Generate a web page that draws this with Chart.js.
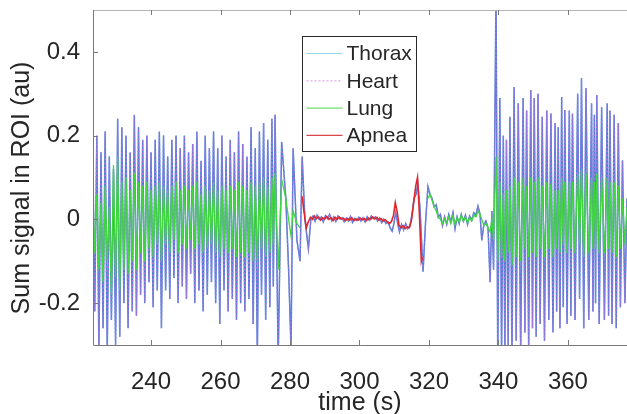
<!DOCTYPE html>
<html><head><meta charset="utf-8">
<script src="https://cdn.jsdelivr.net/npm/chart.js@4/dist/chart.umd.min.js"></script>
<style>html,body{margin:0;padding:0;background:#fff;overflow:hidden}#wrap{width:627px;height:414px}</style>
</head><body><div id="wrap"><canvas id="c" width="627" height="414"></canvas></div>
<script>
const seriesNames = ['Thorax', 'Heart', 'Lung', 'Apnea'];
const xTitle = 'time (s)';
const yTitle = 'Sum signal in ROI (au)';
const xTicks = [240, 260, 280, 300, 320, 340, 360];
const yTicks = [-0.2, 0, 0.2, 0.4];
const yTickLabels = ['-0.2', '0', '0.2', '0.4'];

// segment 1: breathing before apnea (s)
const seg1T = [223.3,223.8,224.4,225.0,225.6,226.2,226.8,227.4,228.0,228.6,
229.2,229.8,230.4,231.0,231.6,232.2,232.8,233.4,234.0,234.6,
235.2,235.8,236.4,237.0,237.6,238.2,238.8,239.4,240.0,240.6,
241.2,241.8,242.4,243.0,243.6,244.2,244.8,245.4,246.0,246.6,
247.2,247.8,248.4,249.0,249.6,250.2,250.8,251.4,252.0,252.6,
253.2,253.8,254.4,255.0,255.6,256.2,256.8,257.4,258.0,258.6,
259.2,259.8,260.4,261.0,261.6,262.2,262.8,263.4,264.0,264.6,
265.2,265.8,266.4,267.0,267.6,268.2,268.8,269.4,270.0,270.6,
271.2,271.8,272.4,273.0,273.6,274.2,274.8,275.2,275.7,276.6,
277.6,278.8,279.6,280.3,280.9,282.0,282.9,283.5,284.3,285.3,
286.0];
const thorax1 = [0.12,-0.22,0.2,-0.31,0.16,-0.26,0.21,-0.32,0.15,-0.24,
0.12,-0.3,0.24,-0.28,0.22,-0.2,0.2,-0.26,0.16,-0.22,
0.25,-0.23,0.22,-0.18,0.19,-0.2,0.2,-0.15,0.16,-0.21,
0.19,-0.17,0.21,-0.26,0.2,-0.17,0.15,-0.19,0.19,-0.14,
0.2,-0.2,0.17,-0.16,0.2,-0.19,0.16,-0.13,0.18,-0.2,
0.21,-0.17,0.14,-0.22,0.2,-0.18,0.17,-0.15,0.21,-0.2,
0.17,-0.25,0.2,-0.17,0.15,-0.22,0.19,-0.19,0.16,-0.24,
0.21,-0.2,0.18,-0.22,0.15,-0.19,0.22,-0.25,0.17,-0.33,
0.21,-0.18,0.23,-0.24,0.19,-0.21,0.24,-0.16,0.25,-0.34,
0.185,0.05,-0.12,-0.31,0.17,-0.05,-0.1,0.15,0.0,-0.07,
0.0];
const lung1 = [0.05,-0.08,0.06,-0.12,0.04,-0.15,0.08,-0.1,0.03,-0.18,
0.13,-0.14,0.15,-0.17,0.09,-0.12,0.1,-0.13,0.07,-0.1,
0.11,-0.12,0.09,-0.08,0.08,-0.1,0.09,-0.07,0.07,-0.09,
0.08,-0.06,0.09,-0.1,0.08,-0.06,0.07,-0.08,0.08,-0.05,
0.09,-0.08,0.07,-0.06,0.08,-0.07,0.07,-0.05,0.08,-0.07,
0.09,-0.06,0.06,-0.08,0.08,-0.07,0.07,-0.06,0.09,-0.08,
0.07,-0.09,0.08,-0.07,0.07,-0.08,0.08,-0.07,0.07,-0.09,
0.09,-0.08,0.08,-0.09,0.07,-0.08,0.09,-0.1,0.08,-0.1,
0.09,-0.07,0.1,-0.09,0.08,-0.08,0.1,-0.06,0.11,-0.12,
0.095,0.05,0.0,-0.04,0.02,-0.01,-0.02,null,null,null,
null];

// apnea segment, thorax trace (s)
const apBlueT = [286.6,287.2,287.8,288.4,289.0,289.6,290.2,290.8,291.4,292.0,
292.6,293.2,293.8,294.4,295.0,295.6,296.2,296.8,297.4,298.0,
298.6,299.2,299.8,300.4,301.0,301.6,302.2,302.8,303.4,304.0,
304.6,305.2,305.8,306.4,307.0,307.6,308.2,308.8,309.4,309.9,
310.4,310.9,311.5,312.1,312.7,313.3,313.9,314.5,315.1,315.7,
316.3,316.8,317.4,318.3,319.0];
const thoraxAp = [0.008,-0.004,0.01,0.0,0.006,-0.006,0.009,0.002,0.012,-0.003,
0.006,-0.005,0.008,0.001,0.004,-0.006,0.003,-0.004,0.007,-0.007,
0.002,-0.003,0.005,-0.004,0.004,-0.006,0.006,-0.002,0.008,0.002,
0.006,-0.004,0.003,-0.008,0.0,-0.01,-0.006,-0.02,-0.028,-0.01,
0.015,-0.005,-0.03,-0.012,-0.025,-0.01,-0.022,-0.015,0.01,0.05,
0.06,0.085,0.03,-0.125,-0.01];

// apnea flag trace
const apneaT = [283.5,284.0,284.7,285.3,285.9,286.5,287.0,287.6,288.2,288.8,
289.4,290.0,290.6,291.2,291.8,292.4,293.0,293.6,294.2,294.8,
295.4,296.0,296.6,297.2,297.8,298.4,299.0,299.6,300.2,300.8,
301.4,302.0,302.6,303.2,303.8,304.4,305.0,305.6,306.2,306.8,
307.4,308.0,308.6,309.2,309.8,310.3,310.8,311.4,312.0,312.6,
313.2,313.8,314.4,315.0,315.6,316.2,316.7,317.2,317.8,318.1];
const apneaV = [0.055,0.02,-0.02,-0.005,0.005,0.0,0.008,0.002,0.006,-0.002,
0.004,0.001,0.007,0.0,0.004,-0.003,0.005,0.0,0.006,0.001,
0.003,-0.003,0.002,-0.002,0.004,-0.003,0.001,-0.002,0.003,-0.001,
0.002,-0.003,0.003,0.0,0.006,0.001,0.005,-0.002,0.002,-0.004,
-0.001,-0.006,-0.01,-0.005,0.01,0.04,0.02,-0.015,-0.02,-0.015,
-0.022,-0.018,-0.02,0.0,0.04,0.08,0.1,0.02,-0.1,-0.09];

// recovery after apnea (s)
const postT = [319.7,320.3,320.9,321.5,322.1,322.7,323.3,323.9,324.5,325.1,
325.7,326.3,326.9,327.5,328.1,328.7,329.3,329.9,330.5,331.1,
331.7,332.3,332.9,333.5,334.1,334.7,335.2,335.8,336.4,337.0];
const thoraxPost = [0.078,0.06,0.05,0.03,0.035,0.005,0.012,-0.015,0.006,-0.012,
0.012,-0.006,0.016,-0.022,0.006,-0.01,0.012,-0.004,0.01,-0.012,
0.008,-0.002,0.016,0.01,0.032,0.012,-0.05,-0.012,-0.004,-0.02];
const lungPost = [0.05,0.06,0.045,0.03,0.02,0.005,0.0,-0.01,0.002,-0.008,
0.006,-0.01,0.008,-0.012,0.004,-0.006,0.01,-0.005,0.006,-0.008,
0.004,-0.004,0.01,0.006,0.02,0.012,0.0,-0.015,-0.01,-0.02];

// segment 3: breathing resumes (s)
const seg3T = [337.6,338.1,338.6,339.3,339.8,340.4,340.9,341.4,341.85,342.3,
342.8,343.3,343.9,344.5,345.1,345.7,346.4,347.1,347.6,348.1,
348.7,349.3,349.8,350.3,350.85,351.4,352.0,352.6,353.25,353.9,
354.5,355.1,355.7,356.3,356.75,357.2,357.7,358.2,358.65,359.1,
359.75,360.4,360.85,361.3,362.05,362.8,363.35,363.9,364.55,365.2,
366.0,366.8,367.2,367.6,367.95,368.3,369.0,369.7,370.5,371.3,
371.7,372.1,372.7,373.3,373.9,374.5,375.1,375.7,376.4,377.0];
const thorax3 = [-0.15,0.02,-0.12,0.55,-0.34,0.29,-0.33,0.2,-0.32,0.19,
-0.3,0.245,-0.33,0.316,-0.29,0.277,-0.32,0.29,-0.27,0.26,
-0.31,0.309,-0.26,0.29,-0.28,0.3,-0.25,0.245,-0.29,0.26,
-0.24,0.253,-0.27,0.23,-0.22,0.22,-0.26,0.292,-0.21,0.261,
-0.25,0.26,-0.23,0.253,-0.24,0.3,-0.19,0.337,-0.26,0.313,
-0.24,0.277,-0.22,0.25,-0.2,0.297,-0.25,0.268,-0.24,0.277,
-0.23,0.26,-0.25,0.25,-0.26,0.23,-0.21,0.141,-0.2,0.05];
const lung3 = [-0.03,0.0,-0.05,0.15,-0.1,0.09,-0.09,0.06,-0.1,0.07,
-0.08,0.08,-0.11,0.1,-0.09,0.09,-0.1,0.1,-0.07,0.08,
-0.09,0.1,-0.08,0.09,-0.09,0.1,-0.07,0.08,-0.09,0.09,
-0.07,0.085,-0.09,0.07,-0.07,0.07,-0.08,0.1,-0.06,0.09,
-0.08,0.09,-0.07,0.09,-0.08,0.11,-0.06,0.12,-0.09,0.11,
-0.08,0.1,-0.07,0.09,-0.07,0.11,-0.08,0.1,-0.08,0.1,
-0.07,0.09,-0.08,0.09,-0.09,0.08,-0.07,0.05,-0.06,0.03];

function pts(T, V) { return T.map((t, i) => ({ x: t, y: V[i] })); }

const thoraxPts = [].concat(pts(seg1T, thorax1), pts(apBlueT, thoraxAp), pts(postT, thoraxPost), pts(seg3T, thorax3));
const heartPts = thoraxPts.map(p => ({ x: p.x, y: p.y }));
const lungPts = [].concat(pts(seg1T, lung1), pts(postT, lungPost), pts(seg3T, lung3));
const apneaPts = pts(apneaT, apneaV);

const lineColors = ['#4d7ed6', '#9a78dc', '#3fd63f', '#e0262b'];
const legendColors = ['#8fd8e6', '#e8a6ea', '#6fe06f', '#d84848'];
const legendDash = [[], [2, 2], [], []];
const FONT = '"Liberation Sans", Arial, Helvetica, sans-serif';
const TXT = '#262626';

const framePlugin = {
  id: 'frame',
  afterDatasetsDraw(chart) {
    const { ctx, chartArea: a, scales: { x, y } } = chart;
    ctx.save();
    ctx.strokeStyle = '#b4b4b4'; ctx.lineWidth = 1;
    ctx.beginPath(); ctx.moveTo(a.left, a.top + 0.5); ctx.lineTo(a.right, a.top + 0.5); ctx.stroke();
    ctx.strokeStyle = '#7a7a7a';
    ctx.beginPath();
    ctx.moveTo(a.left + 0.5, a.top); ctx.lineTo(a.left + 0.5, a.bottom + 0.5);
    ctx.lineTo(a.right, a.bottom + 0.5);
    ctx.stroke();
    ctx.beginPath();
    xTicks.forEach(v => {
      const px = Math.round(x.getPixelForValue(v)) + 0.5;
      ctx.moveTo(px, a.bottom); ctx.lineTo(px, a.bottom - 5);
      ctx.moveTo(px, a.top); ctx.lineTo(px, a.top + 5);
    });
    yTicks.forEach(v => {
      const py = Math.round(y.getPixelForValue(v)) + 0.5;
      ctx.moveTo(a.left, py); ctx.lineTo(a.left + 5, py);
    });
    ctx.stroke();
    // y-axis title
    ctx.save();
    ctx.translate(22, 188); ctx.rotate(-Math.PI / 2);
    ctx.font = '25px ' + FONT; ctx.fillStyle = TXT; ctx.textAlign = 'center'; ctx.textBaseline = 'middle';
    ctx.fillText(yTitle, 0, 0);
    ctx.restore();
    // legend
    const bx = 302.5, by = 36.5, bw = 114, bh = 115;
    ctx.fillStyle = '#fff'; ctx.fillRect(bx, by, bw, bh);
    ctx.strokeStyle = '#2a2a2a'; ctx.lineWidth = 1; ctx.strokeRect(bx, by, bw, bh);
    ctx.font = '21px ' + FONT; ctx.textBaseline = 'middle'; ctx.textAlign = 'left';
    seriesNames.forEach((name, i) => {
      const cy = by + 17 + i * 27.3;
      ctx.strokeStyle = legendColors[i]; ctx.lineWidth = 1.2; ctx.setLineDash(legendDash[i]);
      ctx.beginPath(); ctx.moveTo(bx + 4, cy); ctx.lineTo(bx + 40, cy); ctx.stroke();
      ctx.setLineDash([]);
      ctx.fillStyle = TXT; ctx.fillText(name, bx + 44, cy + 1);
    });
    ctx.restore();
  }
};

new Chart(document.getElementById('c'), {
  type: 'line',
  data: {
    datasets: [
      { label: seriesNames[0], data: thoraxPts, borderColor: lineColors[0], borderWidth: 1.5, order: 3 },
      { label: seriesNames[1], data: heartPts, borderColor: lineColors[1], borderWidth: 1.2, borderDash: [2, 2], order: 2 },
      { label: seriesNames[2], data: lungPts, borderColor: lineColors[2], borderWidth: 1.3, order: 1 },
      { label: seriesNames[3], data: apneaPts, borderColor: lineColors[3], borderWidth: 1.6, order: 0 }
    ]
  },
  options: {
    responsive: false, animation: false, devicePixelRatio: 1,
    layout: { padding: { top: 10, right: 0, left: 0, bottom: 0 } },
    elements: { point: { radius: 0 }, line: { tension: 0, fill: false } },
    plugins: { legend: { display: false }, tooltip: { enabled: false } },
    scales: {
      x: {
        type: 'linear', min: 223.3, max: 377.0,
        afterBuildTicks: s => { s.ticks = xTicks.map(v => ({ value: v })); },
        afterFit: s => { s.height = 69; s.paddingLeft = 0; s.paddingRight = 0; },
        grid: { display: false, drawTicks: false }, border: { display: false },
        ticks: { color: TXT, font: { family: FONT, size: 24 }, padding: 23, maxRotation: 0, autoSkip: false,
                 callback: v => String(v) },
        title: { display: true, text: xTitle, color: TXT, font: { family: FONT, size: 25, lineHeight: 1 }, padding: { top: 0, bottom: -2 } }
      },
      y: {
        type: 'linear', min: -0.3, max: 0.5,
        afterBuildTicks: s => { s.ticks = yTicks.map(v => ({ value: v })); },
        afterFit: s => { s.width = 93; s.paddingTop = 0; s.paddingBottom = 0; },
        grid: { display: false, drawTicks: false }, border: { display: false },
        ticks: { color: TXT, font: { family: FONT, size: 24 }, padding: 13, autoSkip: false,
                 callback: v => yTickLabels[yTicks.findIndex(t => Math.abs(t - v) < 1e-9)] },
        title: { display: false, text: yTitle }
      }
    }
  },
  plugins: [framePlugin]
});
</script>
</body></html>
